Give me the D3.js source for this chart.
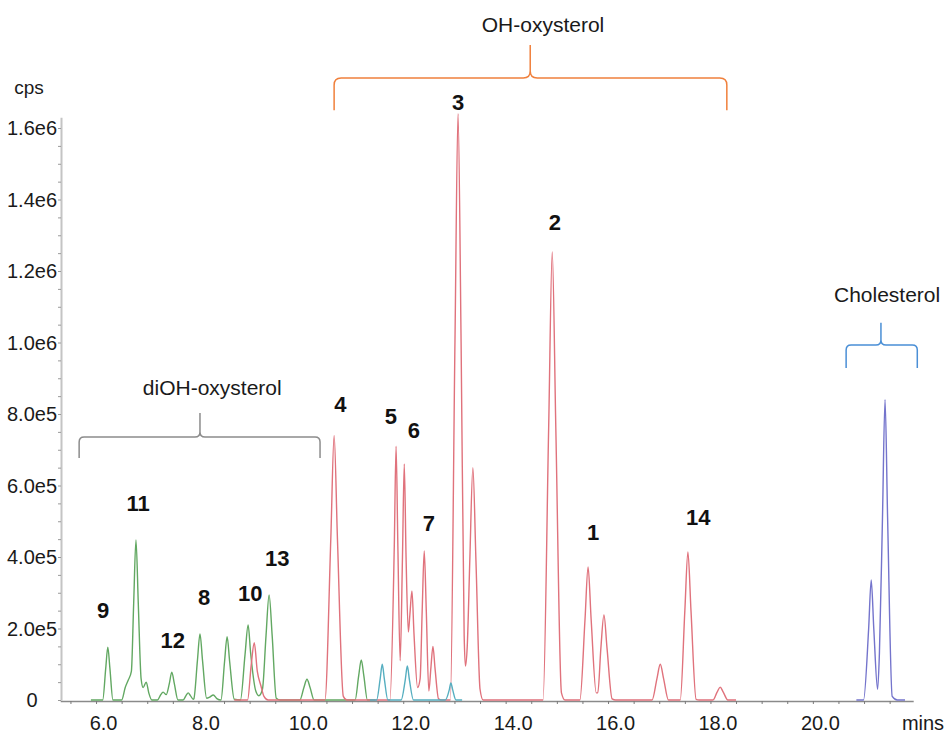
<!DOCTYPE html>
<html>
<head>
<meta charset="utf-8">
<script src="https://cdn.jsdelivr.net/npm/d3@7/dist/d3.min.js"></script>
<style>
  html, body { margin: 0; padding: 0; background: #fff; }
  svg { display: block; font-family: "Liberation Sans", Arial, Helvetica, sans-serif; }
</style>
</head>
<body>
<svg id="chart" width="947" height="737"></svg>
<script>
// ---------------- data (time in min, intensity in cps) ----------------
const xLabelTicks = [6, 8, 10, 12, 14, 16, 18, 20];
const yTickValues = [0, 2e5, 4e5, 6e5, 8e5, 1.0e6, 1.2e6, 1.4e6, 1.6e6];
const yTickLabels = ["0", "2.0e5", "4.0e5", "6.0e5", "8.0e5", "1.0e6", "1.2e6", "1.4e6", "1.6e6"];

// diOH-oxysterol trace (green)
const greenTrace = [
  [5.90,0],[6.13,0],[6.19,0.9e5],[6.23,1.48e5],[6.27,0.9e5],[6.33,0],
  [6.50,0],[6.57,0.35e5],[6.63,0.56e5],[6.69,0.8e5],[6.735,2.7e5],[6.78,4.48e5],[6.825,2.7e5],
  [6.88,0.6e5],[6.92,0.35e5],[6.98,0.5e5],[7.03,0.2e5],[7.09,0],
  [7.20,0],[7.26,0.14e5],[7.31,0.22e5],[7.37,0.15e5],[7.43,0.45e5],[7.48,0.78e5],[7.53,0.45e5],[7.60,0],
  [7.70,0],[7.76,0.13e5],[7.80,0.2e5],[7.84,0.13e5],[7.90,0.02e5],
  [7.91,0.03e5],[7.98,1.1e5],[8.03,1.85e5],[8.08,1.1e5],[8.16,0.05e5],
  [8.22,0.08e5],[8.29,0.14e5],[8.36,0.04e5],
  [8.44,0],[8.51,1.07e5],[8.56,1.77e5],[8.61,1.07e5],[8.70,0.02e5],
  [8.82,0],[8.91,1.27e5],[8.97,2.1e5],[9.02,1.3e5],[9.12,0.25e5],[9.18,0.12e5],
  [9.25,0.3e5],[9.32,1.8e5],[9.38,2.94e5],[9.44,1.8e5],[9.52,0.05e5],[9.60,0],
  [9.98,0],[10.06,0.35e5],[10.12,0.58e5],[10.18,0.35e5],[10.26,0],
  [11.06,0],[11.13,0.68e5],[11.18,1.12e5],[11.23,0.68e5],[11.30,0],[11.45,0]
];

// OH-oxysterol trace (red)
const redTrace = [
  [8.70,0],[8.96,0],[9.03,0.97e5],[9.09,1.6e5],[9.15,0.8e5],[9.22,0.4e5],[9.28,0.1e5],[9.36,0],
  [10.47,0],[10.585,4.5e5],[10.65,7.4e5],[10.715,4.5e5],[10.83,0.1e5],[10.90,0],
  [11.74,0],[11.825,4.3e5],[11.86,7.1e5],[11.895,4.3e5],[11.94,1.1e5],[11.985,4.0e5],[12.02,6.6e5],
  [12.055,4.0e5],[12.10,1.9e5],[12.13,2.4e5],[12.17,3.05e5],[12.21,1.85e5],[12.28,0.35e5],
  [12.33,0.6e5],[12.37,2.5e5],[12.41,4.17e5],[12.45,2.5e5],[12.50,0.25e5],[12.54,0.9e5],[12.58,1.5e5],
  [12.62,0.9e5],[12.69,0.03e5],[12.75,0],
  [12.92,0],[13.01,10e5],[13.07,16.4e5],[13.13,10e5],[13.19,1.8e5],[13.215,0.95e5],[13.25,1.5e5],
  [13.30,3.9e5],[13.36,6.5e5],[13.42,3.9e5],[13.50,0.3e5],[13.56,0],
  [14.73,0],[14.84,7.6e5],[14.91,12.53e5],[14.98,7.6e5],[15.09,0.2e5],[15.16,0],
  [15.45,0],[15.55,2.25e5],[15.61,3.72e5],[15.67,2.25e5],[15.77,0.2e5],[15.80,0.2e5],[15.86,1.45e5],
  [15.92,2.38e5],[15.98,1.45e5],[16.08,0.03e5],[16.15,0],
  [16.86,0],[16.955,0.6e5],[17.02,1.0e5],[17.085,0.6e5],[17.18,0],
  [17.41,0],[17.50,2.5e5],[17.56,4.14e5],[17.62,2.5e5],[17.72,0.02e5],[17.78,0],
  [18.05,0],[18.13,0.22e5],[18.19,0.36e5],[18.25,0.22e5],[18.34,0],[18.50,0]
];

// minor trace (teal)
const tealTrace = [
  [11.35,0],[11.48,0],[11.55,0.6e5],[11.59,1.0e5],[11.63,0.6e5],[11.70,0],
  [11.96,0],[12.04,0.57e5],[12.08,0.95e5],[12.12,0.57e5],[12.20,0],
  [12.82,0],[12.90,0.29e5],[12.93,0.48e5],[12.965,0.29e5],[13.03,0],[13.15,0]
];

// Cholesterol trace (blue)
const blueTrace = [
  [20.85,0],[20.99,0],[21.09,2.0e5],[21.14,3.36e5],[21.19,2.0e5],[21.265,0.3e5],[21.30,1.3e5],
  [21.36,5.1e5],[21.41,8.4e5],[21.46,5.1e5],[21.55,0.1e5],[21.65,0],[21.80,0]
];

// peak numbers [label, time, cps]
const peakLabels = [
  ["9", 6.14, 2.52e5], ["11", 6.82, 5.51e5], ["12", 7.50, 1.68e5], ["8", 8.11, 2.88e5],
  ["10", 9.01, 2.99e5], ["13", 9.54, 3.97e5], ["4", 10.77, 8.28e5], ["5", 11.76, 7.94e5],
  ["6", 12.21, 7.55e5], ["7", 12.50, 4.95e5], ["3", 13.07, 16.73e5], ["2", 14.96, 13.37e5],
  ["1", 15.71, 4.70e5], ["14", 17.76, 5.12e5]
];

// group braces
const groupNames = ["diOH-oxysterol", "OH-oxysterol", "Cholesterol"];
const groupStart = [5.67, 10.65, 20.65];
const groupEnd = [10.375, 18.32, 22.04];
const groupCentre = [8.03, 14.48, 21.33];
const groupBar = [7.36e5, 17.4e5, 9.93e5];
const groupEnds = [6.77e5, 16.5e5, 9.29e5];
const groupTip = [8.03e5, 18.32e5, 10.55e5];
const groupTextT = [8.27, 14.73, 21.45];
const groupTextV = [8.73e5, 18.9e5, 11.33e5];
const groupColours = ["#8c8c8c", "#f0803c", "#4a8fd6"];

// ---------------- drawing ----------------
const svg = d3.select("#chart");
const x = d3.scaleLinear().domain([5.3, 21.96]).range([60.2, 913.2]);
const y = d3.scaleLinear().domain([0, 1.63e6]).range([700, 117.3]);

// y axis
const yAxisG = svg.append("g").attr("transform", "translate(61,0)")
  .call(d3.axisLeft(y).tickValues(d3.range(0, 1.63e6, 5e4)).tickSize(3).tickFormat("").tickSizeOuter(0));
yAxisG.select(".domain").attr("stroke", "#c4c4c4").attr("stroke-width", 2);
yAxisG.selectAll(".tick line").attr("stroke", "#9a9a9a").attr("stroke-width", 1);

svg.append("g").selectAll("text").data(yTickValues).join("text")
  .attr("x", 32).attr("y", d => y(d)).attr("dy", "0.35em")
  .attr("text-anchor", "middle").attr("font-size", 20).attr("fill", "#1a1a1a")
  .text((d, i) => yTickLabels[i]);

svg.append("text").attr("x", 29).attr("y", 87).attr("dy", "0.35em")
  .attr("text-anchor", "middle").attr("font-size", 19).attr("fill", "#1a1a1a").text("cps");

// x axis
const xAxisG = svg.append("g").attr("transform", `translate(0,${y(0) + 1})`)
  .call(d3.axisBottom(x).tickValues(d3.range(5.5, 21.9, 0.5)).tickSize(3).tickFormat("").tickSizeOuter(0));
xAxisG.select(".domain").attr("stroke", "#8a8a8a").attr("stroke-width", 1.3);
xAxisG.selectAll(".tick line").attr("stroke", "#7a7a7a").attr("stroke-width", 1);

const xLab = svg.append("g").attr("transform", "translate(7,730)")
  .call(d3.axisBottom(x).tickValues(xLabelTicks).tickSize(0).tickFormat(d3.format(".1f")));
xLab.select(".domain").remove();
xLab.selectAll("text").attr("font-size", 20).attr("fill", "#1a1a1a")
  .attr("font-family", "Liberation Sans, Arial, sans-serif").attr("y", 0).attr("dy", 0);

svg.append("text").attr("x", 923).attr("y", 730)
  .attr("text-anchor", "middle").attr("font-size", 20).attr("fill", "#1a1a1a").text("mins");

// traces
const line = d3.line().x(d => x(d[0])).y(d => y(d[1])).curve(d3.curveMonotoneX);
const traces = [
  [greenTrace, "#62a862"],
  [redTrace, "#e0727c"],
  [tealTrace, "#55aec0"],
  [blueTrace, "#7474cc"]
];
svg.append("g").selectAll("path").data(traces).join("path")
  .attr("d", d => line(d[0])).attr("fill", "none")
  .attr("stroke", d => d[1]).attr("stroke-width", 1.4).attr("stroke-linejoin", "round");

// peak labels
svg.append("g").selectAll("text").data(peakLabels).join("text")
  .attr("x", d => x(d[1])).attr("y", d => y(d[2])).attr("dy", "0.35em")
  .attr("text-anchor", "middle").attr("font-size", 22).attr("font-weight", "bold")
  .attr("fill", "#111").text(d => d[0]);

// braces
function bracePath(i, r) {
  const x1 = x(groupStart[i]), x2 = x(groupEnd[i]), xc = x(groupCentre[i]);
  const yh = y(groupBar[i]), ye = y(groupEnds[i]), yt = y(groupTip[i]);
  return `M${x1},${ye} L${x1},${yh + r} Q${x1},${yh} ${x1 + r},${yh} L${xc - r},${yh} Q${xc},${yh} ${xc},${yh - r} L${xc},${yt}` +
         ` M${xc},${yh - r} Q${xc},${yh} ${xc + r},${yh} L${x2 - r},${yh} Q${x2},${yh} ${x2},${yh + r} L${x2},${ye}`;
}
const bg = svg.append("g");
groupNames.forEach((name, i) => {
  bg.append("path").attr("d", bracePath(i, i === 1 ? 7 : 5)).attr("fill", "none")
    .attr("stroke", groupColours[i]).attr("stroke-width", 1.5);
  bg.append("text").attr("x", x(groupTextT[i])).attr("y", y(groupTextV[i])).attr("dy", "0.35em")
    .attr("text-anchor", "middle").attr("font-size", 21).attr("fill", "#1a1a1a").text(name);
});
</script>
</body>
</html>
